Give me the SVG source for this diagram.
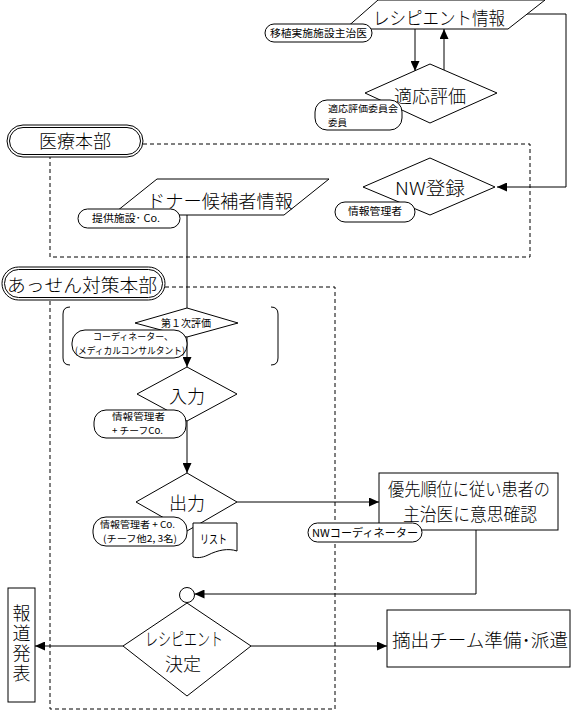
<svg xmlns="http://www.w3.org/2000/svg" width="574" height="711" viewBox="0 0 574 711">
<style>
text{font-family:"Noto Sans CJK JP","Noto Sans CJK SC",sans-serif;fill:#000}
.s{fill:#fff;stroke:#000;stroke-width:1}
.d{fill:none;stroke:#000;stroke-width:1;stroke-dasharray:4 3}
.c{fill:none;stroke:#000;stroke-width:1}
.big{font-size:18px;font-weight:300}
.sm{font-size:10px}
.sm2{font-size:9.5px}
.m{text-anchor:middle}
</style>
<defs>
<marker id="a" markerUnits="userSpaceOnUse" markerWidth="10" markerHeight="9" refX="10" refY="4.5" orient="auto">
<path d="M0,0 L10,4.5 L0,9 Z" fill="#000"/>
</marker>
</defs>
<rect width="574" height="711" fill="#fff"/>
<g id="frames">
<path class="d" d="M143,144 H530 V257 H50 V157"/>
<path class="d" d="M165,287 H335 V709 H50 V300"/>
<path class="c" d="M70,307 Q63,307 63,314 V358 Q63,365 70,365"/>
<path class="c" d="M271,307 Q278,307 278,314 V358 Q278,365 271,365"/>
</g>
<g id="connectors">
<path class="c" d="M415,29 V71" marker-end="url(#a)"/>
<path class="c" d="M444,70 V29" marker-end="url(#a)"/>
<path class="c" d="M527,14 H566 V187 H497" marker-end="url(#a)"/>
<path class="c" d="M187,215 V308"/>
<path class="c" d="M187,337 V367" marker-end="url(#a)"/>
<path class="c" d="M187,421 V473" marker-end="url(#a)"/>
<path class="c" d="M237,502 H379" marker-end="url(#a)"/>
<path class="c" d="M476,530 V594 H194.5" marker-end="url(#a)"/>
<path class="c" d="M123,646 H35" marker-end="url(#a)"/>
<path class="c" d="M251,646 H387" marker-end="url(#a)"/>
</g>
<g id="recipient-info">
<path class="s" d="M345,29 L378,0 H545 L508,29 Z"/>
<text class="big" x="373" y="25" textLength="132" lengthAdjust="spacingAndGlyphs">レシピエント情報</text>
</g>
<g id="label-transplant">
<rect class="s" x="265" y="24" width="107" height="18" rx="9"/>
<text class="sm" x="270" y="37" textLength="97" lengthAdjust="spacingAndGlyphs">移植実施施設主治医</text>
</g>
<g id="eval">
<path class="s" d="M365,93 L430,64 L497,93 L430,123 Z"/>
<text class="big m" x="430" y="103" font-size="19">適応評価</text>
</g>
<g id="label-committee">
<rect class="s" x="315" y="100" width="87" height="30" rx="12"/>
<text class="sm2" x="328" y="112" textLength="70" lengthAdjust="spacingAndGlyphs">適応評価委員会</text>
<text class="sm2" x="328" y="126">委員</text>
</g>
<g id="medical-hq">
<rect class="s" x="7" y="125" width="136" height="32" rx="16"/>
<rect class="s" x="9.5" y="127.5" width="131" height="27" rx="13.5"/>
<text class="big m" x="75" y="148" font-size="19">医療本部</text>
</g>
<g id="donor-info">
<path class="s" d="M112,215 L157,179 H329 L284,215 Z"/>
<text class="big" x="147" y="208" textLength="146" lengthAdjust="spacingAndGlyphs">ドナー候補者情報</text>
</g>
<g id="label-provider">
<rect class="s" x="78" y="209" width="102" height="19" rx="9.5"/>
<text class="sm" x="92" y="222" textLength="68" lengthAdjust="spacingAndGlyphs">提供施設･ Co.</text>
</g>
<g id="nw-reg">
<path class="s" d="M363,187 L430,158 L495,187 L430,215 Z"/>
<text class="big" x="395" y="195" font-size="19" textLength="70" lengthAdjust="spacingAndGlyphs">NW登録</text>
</g>
<g id="label-infomgr1">
<rect class="s" x="335" y="202" width="80" height="20" rx="10"/>
<text class="sm" x="348" y="215" textLength="54" lengthAdjust="spacingAndGlyphs">情報管理者</text>
</g>
<g id="mediation-hq">
<rect class="s" x="2" y="267" width="163" height="33" rx="16.5"/>
<rect class="s" x="4.5" y="269.5" width="158" height="28" rx="14"/>
<text class="big" x="7" y="292" font-size="19" textLength="150" lengthAdjust="spacingAndGlyphs">あっせん対策本部</text>
</g>
<g id="first-eval">
<path class="s" d="M135,323 L187,308 L238,323 L187,337 Z"/>
<text class="sm" x="161" y="327" textLength="50" lengthAdjust="spacingAndGlyphs">第１次評価</text>
</g>
<g id="label-coord">
<rect class="s" x="72" y="330" width="115" height="28" rx="13"/>
<text class="sm2" x="93" y="340" textLength="80" lengthAdjust="spacingAndGlyphs">コーディネーター、</text>
<text class="sm2" x="75" y="354" textLength="110" lengthAdjust="spacingAndGlyphs">(メディカルコンサルタント)</text>
</g>
<g id="input">
<path class="s" d="M137,394 L187,367 L237,394 L187,421 Z"/>
<text class="big m" x="187" y="403">入力</text>
</g>
<g id="label-infomgr2">
<rect class="s" x="94" y="410" width="92" height="28" rx="12"/>
<text class="sm2" x="112" y="420" textLength="53" lengthAdjust="spacingAndGlyphs">情報管理者</text>
<text class="sm2" x="112" y="434" textLength="51" lengthAdjust="spacingAndGlyphs">+ チーフCo.</text>
</g>
<g id="output">
<path class="s" d="M136,502 L187,473 L237,502 L187,531 Z"/>
<text class="big m" x="187" y="510">出力</text>
</g>
<g id="label-infomgr3">
<rect class="s" x="93" y="517" width="94" height="29" rx="13"/>
<text class="sm2" x="100" y="528" textLength="75" lengthAdjust="spacingAndGlyphs">情報管理者 + Co.</text>
<text class="sm2" x="103" y="542" textLength="74" lengthAdjust="spacingAndGlyphs">(チーフ他2, 3名)</text>
</g>
<g id="list-doc">
<path class="s" d="M193,523 H237 V551 C228,548 218,550 208,555 C202,558 197,558 193,557 Z"/>
<text x="200" y="544" font-size="12" textLength="27" lengthAdjust="spacingAndGlyphs">リスト</text>
</g>
<g id="confirm">
<rect class="s" x="379" y="473" width="179" height="57"/>
<text class="big" x="388" y="496" font-size="15" textLength="162" lengthAdjust="spacingAndGlyphs">優先順位に従い患者の</text>
<text class="big" x="403" y="521" font-size="15" textLength="134" lengthAdjust="spacingAndGlyphs">主治医に意思確認</text>
</g>
<g id="label-nwcoord">
<rect class="s" x="308" y="523" width="114" height="19" rx="9.5"/>
<text x="312" y="537" font-size="11" textLength="106" lengthAdjust="spacingAndGlyphs">NWコーディネーター</text>
</g>
<g id="junction">
<circle class="s" cx="187" cy="595" r="7.5"/>
</g>
<g id="decision">
<path class="s" d="M123,646 L187,603 L251,646 L187,696 Z"/>
<text class="big" x="145" y="646" textLength="78" lengthAdjust="spacingAndGlyphs">レシピエント</text>
<text class="big m" x="183" y="671" font-size="18">決定</text>
</g>
<g id="press">
<rect class="s" x="8" y="588" width="27" height="114"/>
<text class="big" x="21.5" y="604" writing-mode="tb" letter-spacing="2">報道発表</text>
</g>
<g id="team">
<rect class="s" x="387" y="610" width="183" height="57"/>
<text class="big" x="392" y="647" textLength="176" lengthAdjust="spacingAndGlyphs">摘出チーム準備･派遣</text>
</g>
</svg>
